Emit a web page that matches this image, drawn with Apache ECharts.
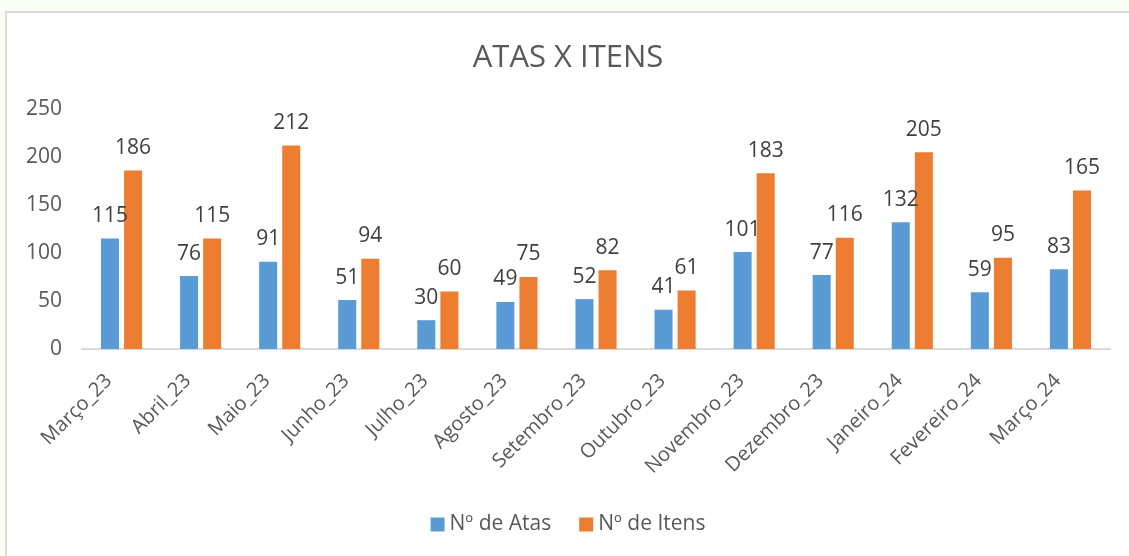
<!DOCTYPE html>
<html><head><meta charset="utf-8">
<script src="https://cdn.jsdelivr.net/npm/echarts@6/dist/echarts.min.js"></script>
<style>
html,body{margin:0;padding:0;background:#FBFDF7;width:1129px;height:556px;overflow:hidden;}
#wrap{position:absolute;left:5px;top:11px;width:1124px;height:545px;background:#fff;border-left:2px solid #D9D9D9;border-top:2px solid #D9D9D9;box-sizing:border-box;}
#chart{width:1122px;height:543px;}
</style></head>
<body><div id="wrap"><div id="chart"></div></div>
<script>
const categories = ['Março_23','Abril_23','Maio_23','Junho_23','Julho_23','Agosto_23','Setembro_23','Outubro_23','Novembro_23','Dezembro_23','Janeiro_24','Fevereiro_24','Março_24'];
const atas = [115,76,91,51,30,49,52,41,101,77,132,59,83];
const itens = [186,115,212,94,60,75,82,61,183,116,205,95,165];
const seriesNames = ['Nº de Atas','Nº de Itens'];
const FONT = '"Open Sans", "Noto Sans", sans-serif';
const chart = echarts.init(document.getElementById('chart'));
const lbl = {show:true, position:'top', distance:12, color:'#404040', fontSize:21, fontFamily:FONT};
chart.setOption({
  animation:false,
  title:{text:'ATAS X ITENS', left:'center', top:25, textStyle:{fontFamily:FONT, fontSize:31, fontWeight:'normal', color:'#595959'}},
  legend:{data:seriesNames, top:496, left:'center', itemWidth:14, itemHeight:14, itemGap:28, icon:'rect',
    textStyle:{fontFamily:FONT, fontSize:21, color:'#595959'}},
  grid:{left:75, right:19, top:96, bottom:207, containLabel:false},
  xAxis:{type:'category', data:categories,
    axisLine:{lineStyle:{color:'#D9D9D9', width:2}}, axisTick:{show:false},
    axisLabel:{rotate:45, interval:0, margin:16, padding:[0,18,0,0], color:'#595959', fontSize:20, fontFamily:FONT}},
  yAxis:{type:'value', min:0, max:250, interval:50,
    splitLine:{show:false}, axisLine:{show:false}, axisTick:{show:false},
    axisLabel:{margin:20, color:'#595959', fontSize:21, fontFamily:FONT}},
  series:[
    {name:seriesNames[0], type:'bar', data:atas, itemStyle:{color:'#5B9BD5'}, barGap:'28%', barCategoryGap:'48%', label:lbl},
    {name:seriesNames[1], type:'bar', data:itens, itemStyle:{color:'#ED7D31'}, label:lbl}
  ]
});
</script></body></html>
